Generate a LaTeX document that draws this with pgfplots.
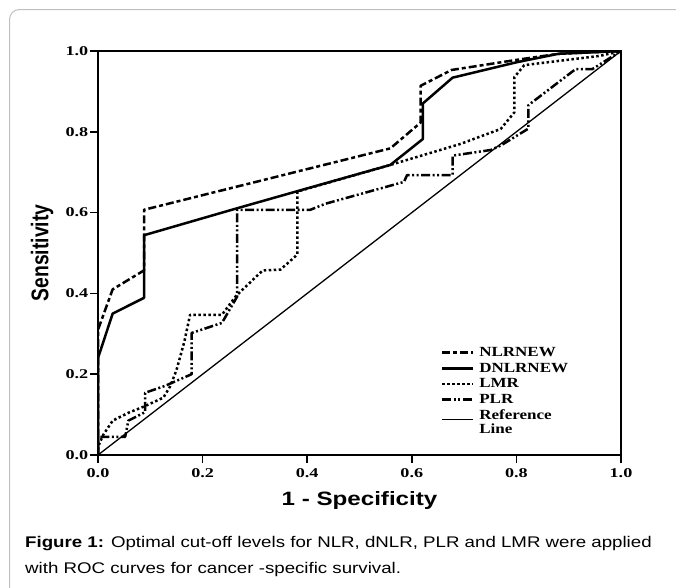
\documentclass[border=0pt]{standalone}
\usepackage{fontspec}
\usepackage{pgfplots}
\pgfplotsset{compat=1.18}
\setmainfont{Liberation Serif}
\newfontfamily\tickfont[FakeStretch=1.35]{Liberation Serif}
\newfontfamily\legfont[FakeStretch=1.22]{Liberation Serif}
\newfontfamily\labfont[FakeStretch=1.25]{Liberation Sans}
\newfontfamily\ylabfont{Liberation Sans}
\newfontfamily\capfont[FakeStretch=1.21]{Liberation Sans}
\begin{document}
\begin{tikzpicture}
\useasboundingbox (0,0) rectangle (676bp,-588bp);
\draw[rounded corners=10bp, draw=black!25, line width=1bp] (9.5bp,-9.5bp) rectangle (720bp,-640bp);
\begin{axis}[
  at={(98bp,-455bp)}, anchor=south west,
  scale only axis, width=523bp, height=404bp,
  xmin=0, xmax=1, ymin=0, ymax=1,
  xtick={0,0.2,0.4,0.6,0.8,1}, ytick={0,0.2,0.4,0.6,0.8,1},
  tick pos=left, tick align=outside, major tick length=8bp,
  every tick/.style={black, line width=1.5bp},
  axis line style={line width=2bp},
  ticklabel style={font=\tickfont\bfseries\fontsize{13.5}{14}\selectfont, inner sep=1.5bp,
    /pgf/number format/fixed, /pgf/number format/fixed zerofill,
    /pgf/number format/precision=1, /pgf/number format/assume math mode=true},
  xticklabel style={yshift=-4bp},
  xlabel={1 - Specificity},
  xlabel style={font=\labfont\bfseries\fontsize{19.4}{20}\selectfont, at={(axis description cs:0.5,-0.112)}, anchor=center},
  ylabel={\scalebox{1}[1.25]{Sensitivity}},
  ylabel style={font=\ylabfont\bfseries\fontsize{19.4}{20}\selectfont, at={(axis description cs:-0.107,0.5)}, anchor=center},
  legend style={at={(axis description cs:0.655,0.267)}, anchor=north west, draw=none, fill=none,
    font=\legfont\bfseries\fontsize{14}{15}\selectfont, inner sep=0pt, row sep=5bp,
    nodes={inner sep=0pt},
    /tikz/every odd column/.append style={column sep=5bp}},
  legend cell align=left,
  legend image code/.code={\draw[#1] (0bp,0bp) -- (31bp,0bp);},
]
\addplot[black, line join=round, line width=2.5bp, dash pattern=on 8bp off 3bp on 4bp off 3bp] coordinates {
 (0,0) (0,0.31) (0.028,0.41) (0.088,0.457) (0.088,0.607) (0.559,0.759) (0.617,0.823)
 (0.617,0.914) (0.676,0.953) (0.80,0.978) (0.88,0.993) (1,1)};
\addlegendentry{NLRNEW}
\addplot[black, line join=round, line width=2.5bp] coordinates {
 (0,0) (0,0.24) (0.028,0.35) (0.088,0.389) (0.088,0.544) (0.264,0.61) (0.381,0.653)
 (0.559,0.718) (0.621,0.782) (0.621,0.870) (0.678,0.934) (0.80,0.972) (0.88,0.993) (1,1)};
\addlegendentry{DNLRNEW}
\addplot[black, line join=round, line width=2.5bp, dash pattern=on 2.5bp off 2.5bp] coordinates {
 (0,0) (0,0.02) (0.01,0.05) (0.028,0.085) (0.059,0.105) (0.088,0.12) (0.125,0.142)
 (0.138,0.17) (0.15,0.21) (0.165,0.28) (0.176,0.347) (0.237,0.347) (0.264,0.394)
 (0.315,0.457) (0.349,0.459) (0.381,0.496) (0.381,0.652) (0.559,0.718) (0.693,0.770)
 (0.770,0.807) (0.796,0.848) (0.796,0.935) (0.815,0.965) (0.96,0.988) (1,1)};
\addlegendentry{LMR}
\addplot[black, line join=round, line width=2.5bp, dash pattern=on 9bp off 2.5bp on 2bp off 2.5bp on 2bp off 2.5bp] coordinates {
 (0,0) (0,0.045) (0.052,0.045) (0.058,0.085) (0.09,0.106) (0.09,0.154) (0.128,0.171)
 (0.179,0.2) (0.179,0.302) (0.237,0.327) (0.266,0.392) (0.266,0.607) (0.406,0.607)
 (0.435,0.622) (0.585,0.676) (0.591,0.693) (0.678,0.693) (0.678,0.741) (0.751,0.755)
 (0.77,0.766) (0.823,0.808) (0.823,0.866) (0.913,0.955) (0.945,0.955) (1,1)};
\addlegendentry{PLR}
\addplot[black, line width=1.3bp] coordinates {(0,0) (1,1)};
\addlegendentry{\renewcommand{\arraystretch}{0.85}\begin{tabular}[c]{@{}l@{}}Reference\\Line\end{tabular}}
\end{axis}
\node[anchor=base west, inner sep=0pt, font=\capfont\fontsize{15.5}{18}\selectfont] at (25bp,-547bp)
  {\textbf{Figure 1:} Optimal cut-off levels for NLR, dNLR, PLR and LMR were applied};
\node[anchor=base west, inner sep=0pt, font=\capfont\fontsize{15.5}{18}\selectfont] at (25bp,-573bp)
  {with ROC curves for cancer -specific survival.};
\end{tikzpicture}
\end{document}
